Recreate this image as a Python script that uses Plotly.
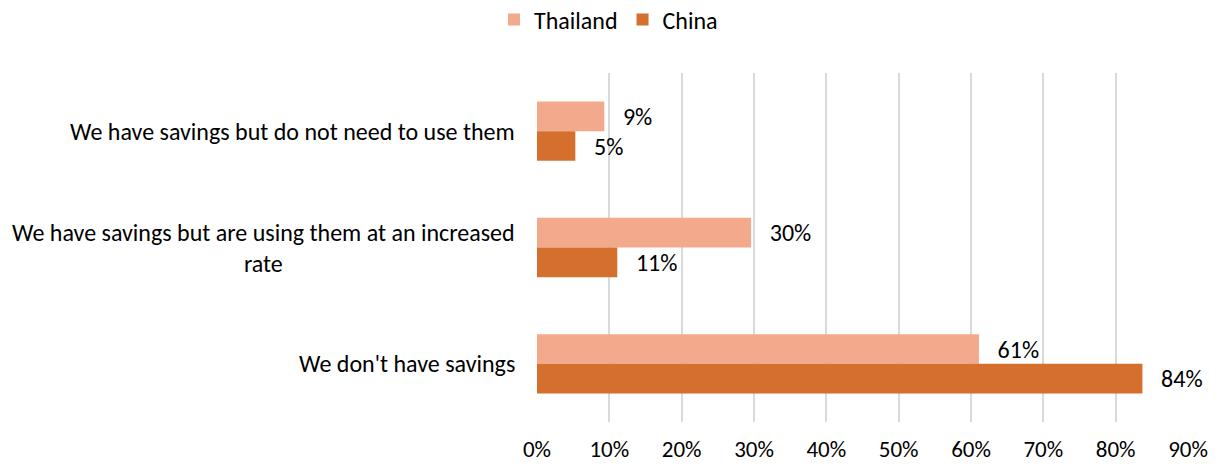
import plotly.graph_objects as go

categories = [
    "We have savings but do not need to use them",
    "We have savings but are using them at an increased<br>rate",
    "We don't have savings",
]
series_names = ["Thailand", "China"]
thailand = [9.3, 29.6, 61.1]
china = [5.3, 11.1, 83.7]
tick_vals = [0, 10, 20, 30, 40, 50, 60, 70, 80, 90]
tick_text = ["0%", "10%", "20%", "30%", "40%", "50%", "60%", "70%", "80%", "90%"]

FONT = "Carlito, Calibri, Lato, sans-serif"
FS = 24
colors = ["#F3A98B", "#D46F2D"]
NB = "\u00a0"

fig = go.Figure()
for name, vals, col in zip(series_names, [thailand, china], colors):
    fig.add_trace(go.Bar(
        y=categories, x=vals, name=name, orientation="h",
        marker=dict(color=col, line=dict(width=0)),
        texttemplate=NB * 2 + "\u2009%{x:.0f}%", textposition="outside",
        textfont=dict(family=FONT, size=FS, color="#000000"),
        cliponaxis=False,
    ))

for cat in categories:
    fig.add_annotation(
        x=0, xref="paper", y=cat, yref="y", text=cat, showarrow=False,
        xanchor="right", align="center", xshift=-20,
        font=dict(family=FONT, size=FS, color="#000000"),
    )

fig.update_layout(
    width=1217, height=465,
    margin=dict(l=537, r=29, t=73, b=43),
    paper_bgcolor="white", plot_bgcolor="white",
    barmode="group", bargap=0.49, bargroupgap=0,
    font=dict(family=FONT, size=FS, color="#000000"),
    legend=dict(
        orientation="h", xref="container", yref="container",
        x=0.5, xanchor="center", y=0.957, yanchor="middle",
        font=dict(family=FONT, size=FS, color="#000000"),
        itemwidth=30,
    ),
    xaxis=dict(
        range=[0, 90], tickmode="array", tickvals=tick_vals, ticktext=tick_text,
        showgrid=True, gridcolor="#D9D9D9", gridwidth=1.5,
        zeroline=False, showline=False, automargin=False,
        ticks="outside", ticklen=6, tickcolor="rgba(0,0,0,0)",
        tickfont=dict(family=FONT, size=23, color="#000000"),
    ),
    yaxis=dict(
        autorange="reversed", showticklabels=False, showgrid=False,
        zeroline=False, showline=False, automargin=False,
    ),
)

fig.write_html("out.html", config={"displayModeBar": False},
               post_script="document.body.style.margin='0';")
